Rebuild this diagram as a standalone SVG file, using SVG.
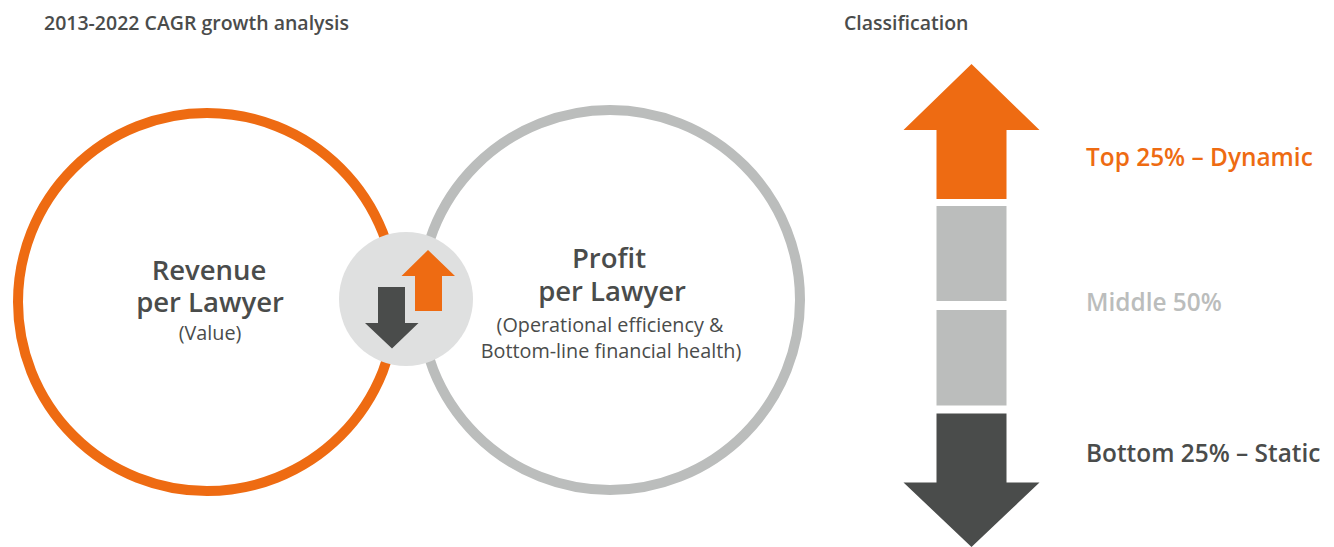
<svg xmlns="http://www.w3.org/2000/svg" width="1334" height="547" viewBox="0 0 1334 547">
  <style>
    text { font-family: "Open Sans", "Noto Sans", "Liberation Sans", sans-serif; }
    .head { font-size: 19.5px; font-weight: 600; fill: #4a4c4b; }
    .title { font-size: 27.5px; font-weight: 600; fill: #4a4c4b; text-anchor: middle; }
    .sub { font-size: 19.8px; font-weight: 400; fill: #4a4c4b; text-anchor: middle; }
    .cls { font-size: 24.4px; font-weight: 600; }
    .orange { fill: #ee6b12; }
    .dark { fill: #4a4c4b; }
    .grey { fill: #bbbdbc; }
  </style>

  <rect width="1334" height="547" fill="#ffffff"/>

  <!-- section headings -->
  <text class="head" x="44" y="30">2013-2022 CAGR growth analysis</text>
  <text class="head" x="844" y="30">Classification</text>

  <!-- revenue circle -->
  <g id="revenue">
    <circle cx="207" cy="302" r="189" fill="none" stroke="#ee6b12" stroke-width="10"/>
    <text class="title" x="209" y="280">Revenue</text>
    <text class="title" x="210" y="312">per Lawyer</text>
    <text class="sub" x="210" y="340">(Value)</text>
  </g>

  <!-- profit circle -->
  <g id="profit">
    <circle cx="610" cy="300" r="190" fill="none" stroke="#bbbdbc" stroke-width="10"/>
    <text class="title" x="609" y="268">Profit</text>
    <text class="title" x="612" y="301">per Lawyer</text>
    <text class="sub" x="610" y="332">(Operational efficiency &amp;</text>
    <text class="sub" x="611" y="358">Bottom-line financial health)</text>
  </g>

  <!-- overlap badge with up/down arrows -->
  <g id="overlap">
    <circle cx="406" cy="299" r="67" fill="#dfe0e0"/>
    <polygon class="orange" points="428,250 455,276 442,276 442,311 415,311 415,276 401.5,276"/>
    <polygon class="dark" points="378,287 405,287 405,323 418.5,323 392,348.5 365,323 378,323"/>
  </g>

  <!-- classification scale -->
  <g id="scale">
    <polygon class="orange" points="971.5,64 1039.5,130 1006.5,130 1006.5,199 936.5,199 936.5,130 903.5,130"/>
    <rect class="grey" x="936.5" y="206" width="70" height="95"/>
    <rect class="grey" x="936.5" y="310" width="70" height="95.5"/>
    <polygon class="dark" points="936.5,413.5 1006.5,413.5 1006.5,482.5 1039.5,482.5 971.5,547 903.5,482.5 936.5,482.5"/>
  </g>

  <g id="labels">
    <text class="cls orange" x="1086" y="166">Top 25% – Dynamic</text>
    <text class="cls grey" x="1086" y="311">Middle 50%</text>
    <text class="cls dark" x="1086" y="462">Bottom 25% – Static</text>
  </g>
</svg>
